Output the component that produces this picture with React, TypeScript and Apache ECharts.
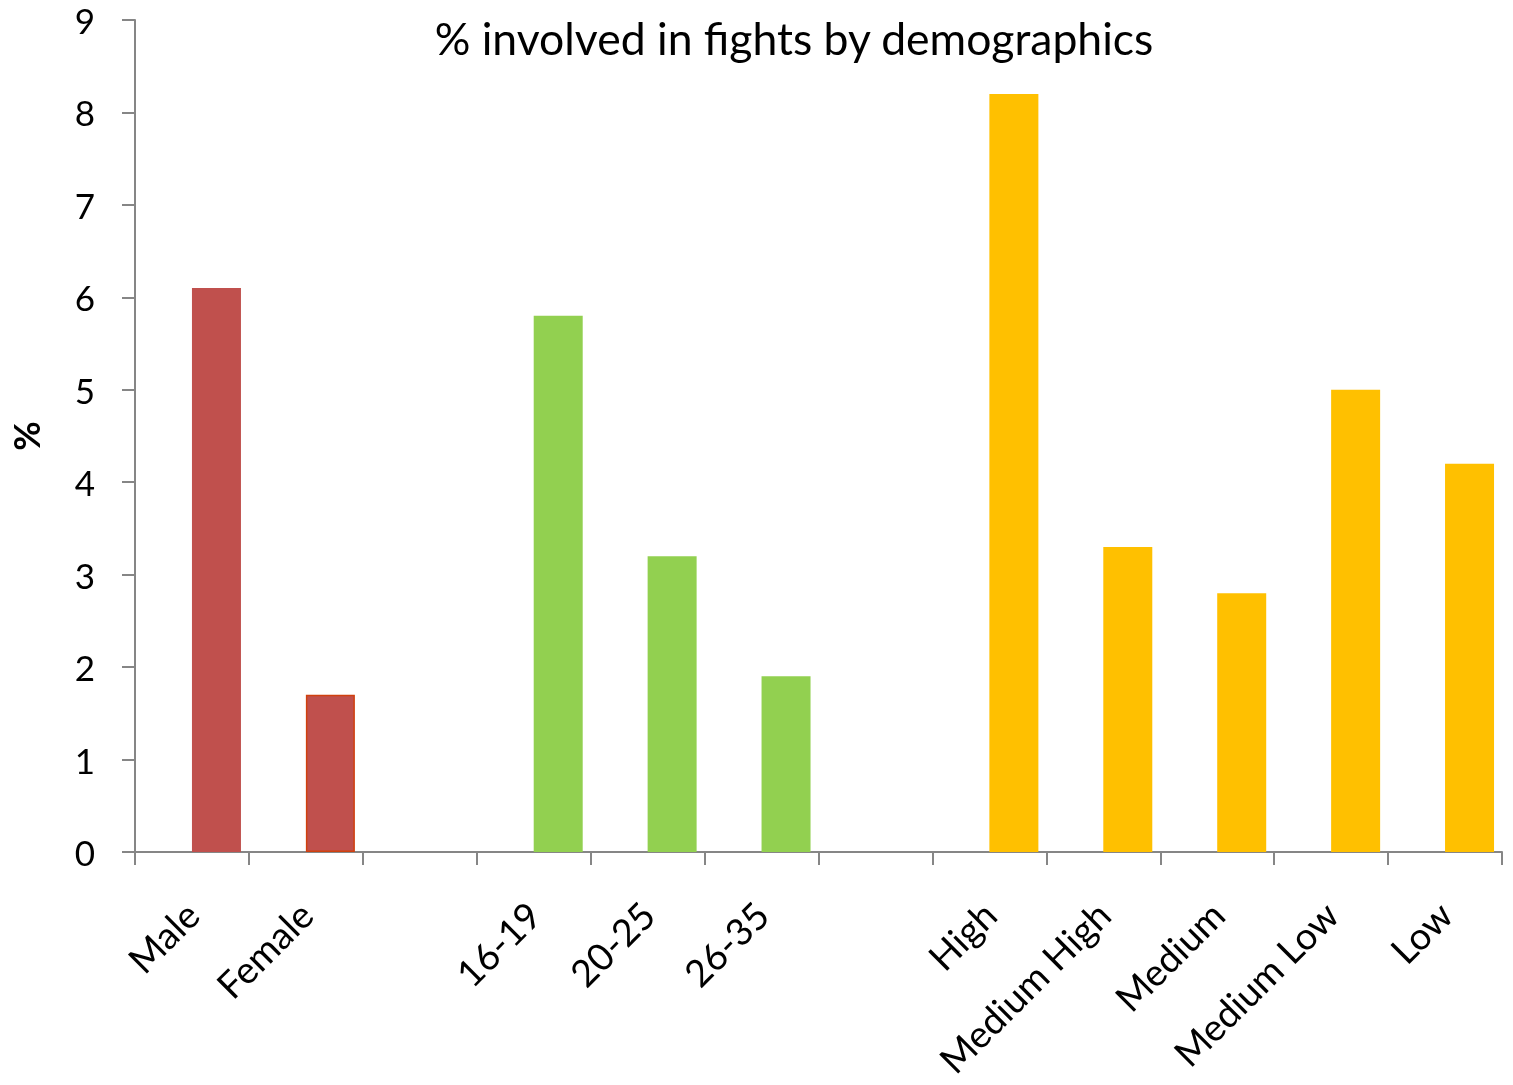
import React, { useEffect, useRef } from "react";
import * as echarts from "echarts";

const categories = ["Male", "Female", "", "16-19", "20-25", "26-35", "", "High", "Medium High", "Medium", "Medium Low", "Low"];
const values: (number | null)[] = [6.1, 1.7, null, 5.8, 3.2, 1.9, null, 8.2, 3.3, 2.8, 5.0, 4.2];
const groups = ["sex", "sex", "", "age", "age", "age", "", "class", "class", "class", "class", "class"];
const yTicks = [0, 9, 1];
const titleText = "% involved in fights by demographics";

const groupColors: Record<string, string> = { sex: "#C0504D", age: "#92D050", class: "#FFC000" };

export default function App() {
  const ref = useRef<HTMLDivElement>(null);
  useEffect(() => {
    if (!ref.current) return;
    const chart = echarts.init(ref.current, undefined, { renderer: "svg" });
    const font = "Lato, 'Open Sans', sans-serif";
    chart.setOption({
      animation: false,
      textStyle: { fontFamily: font },
      title: {
        text: titleText,
        left: 789,
        top: 10,
        textAlign: "center",
        textStyle: { fontFamily: font, fontSize: 44.5, fontWeight: "normal", color: "#000" },
      },
      grid: { left: 135, right: 11, top: 20, bottom: 233, containLabel: false, outerBoundsMode: "none" },
      xAxis: {
        type: "category",
        data: categories,
        axisLine: { lineStyle: { color: "#868686", width: 2 } },
        axisTick: { show: true, length: 13, alignWithLabel: false, lineStyle: { color: "#868686", width: 2 } },
        axisLabel: { rotate: 45, interval: 0, margin: 56, fontSize: 37.5, color: "#000", fontFamily: font },
      },
      yAxis: {
        type: "value",
        min: yTicks[0],
        max: yTicks[1],
        interval: yTicks[2],
        name: "%",
        nameLocation: "middle",
        nameGap: 91,
        nameTextStyle: { fontSize: 36, fontWeight: "bold", color: "#000", fontFamily: font },
        axisLine: { show: true, lineStyle: { color: "#868686", width: 2 } },
        axisTick: { show: true, length: 13, lineStyle: { color: "#868686", width: 2 } },
        splitLine: { show: false },
        axisLabel: { fontSize: 35, color: "#000", margin: 40, fontFamily: font },
      },
      series: [
        {
          type: "bar",
          data: categories.map(() => null),
          barWidth: 49,
          barGap: "0%",
          silent: true,
        },
        {
          type: "bar",
          barWidth: 49,
          barGap: "0%",
          data: values.map((v, i) => ({
            value: v,
            itemStyle: {
              color: groupColors[groups[i]] || "#000",
              borderColor: categories[i] === "Female" ? "#D0400F" : undefined,
              borderWidth: categories[i] === "Female" ? 1.5 : 0,
            },
          })),
        },
      ],
    });
    return () => chart.dispose();
  }, []);
  return <div ref={ref} style={{ position: "fixed", left: 0, top: 0, width: 1513, height: 1085 }} />;
}
